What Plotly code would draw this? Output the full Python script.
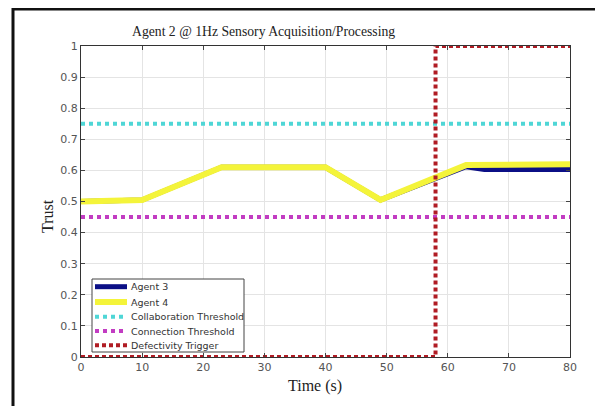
import plotly.graph_objects as go

# Data
time_agent3 = [0, 10, 23, 40, 49, 63, 66, 80]
trust_agent3 = [0.500, 0.505, 0.610, 0.610, 0.505, 0.612, 0.603, 0.603]
time_agent4 = [0, 10, 23, 40, 49, 63, 80]
trust_agent4 = [0.500, 0.505, 0.610, 0.610, 0.505, 0.617, 0.620]
threshold_time = [0, 80]
collaboration_threshold = [0.75, 0.75]
connection_threshold = [0.45, 0.45]
trigger_time = [0, 58, 58, 80]
trigger_value = [0, 0, 1, 1]
x_ticks = [0, 10, 20, 30, 40, 50, 60, 70, 80]
y_ticks = [0, 0.1, 0.2, 0.3, 0.4, 0.5, 0.6, 0.7, 0.8, 0.9, 1]
y_tick_labels = ["0", "0.1", "0.2", "0.3", "0.4", "0.5", "0.6", "0.7", "0.8", "0.9", "1"]
series_names = ["Agent 3", "Agent 4", "Collaboration Threshold", "Connection Threshold",
                "Defectivity Trigger"]

# styles
styles = [
    dict(color="#0b0f86", width=5),
    dict(color="#f4f43a", width=6),
    dict(color="#4fd6d6", width=4, dash="4px,4px"),
    dict(color="#c23cc2", width=4, dash="4px,4px"),
    dict(color="#b01c24", width=4, dash="4px,3px"),
]

# plot area geometry (page pixels): x 81..570, y 46..357 ; page body offset 8px
PX0, PX1, PY0, PY1 = 81, 570, 46, 357
OFF = 8
W, H = 603 - OFF, 406 - OFF
def px(X):
    return (X - PX0) / (PX1 - PX0)
def py(Y):
    return (PY1 - Y) / (PY1 - PY0)

fig = go.Figure()
xs = [time_agent3, time_agent4, threshold_time, threshold_time, trigger_time]
ys = [trust_agent3, trust_agent4, collaboration_threshold, connection_threshold, trigger_value]
for name, x, y, st in zip(series_names, xs, ys, styles):
    fig.add_trace(go.Scatter(x=x, y=y, mode="lines", name=name, line=st, showlegend=False))

fig.update_layout(
    width=W, height=H,
    margin=dict(l=PX0 - OFF, r=W - (PX1 - OFF), t=PY0 - OFF, b=H - (PY1 - OFF), pad=0),
    paper_bgcolor="white", plot_bgcolor="white",
    showlegend=False,
    xaxis=dict(range=[0, 80], tickvals=x_ticks, ticks="inside", ticklen=4,
               showline=True, linecolor="#333333", linewidth=1, mirror="ticks",
               showgrid=True, gridcolor="#e4e4e4", zeroline=False,
               tickfont=dict(family="DejaVu Sans", size=11, color="#555555")),
    yaxis=dict(range=[0, 1], tickvals=y_ticks, ticktext=y_tick_labels, ticks="inside", ticklen=4,
               showline=True, linecolor="#333333", linewidth=1, mirror="ticks",
               showgrid=True, gridcolor="#e4e4e4", zeroline=False,
               tickfont=dict(family="DejaVu Sans", size=11, color="#555555")),
)

serif = dict(family="Liberation Serif", size=16, color="#222222")
fig.add_annotation(text="Agent 2 @ 1Hz Sensory Acquisition/Processing", xref="paper", yref="paper",
                   x=px(263), y=py(31), showarrow=False, xanchor="center", yanchor="middle",
                   font=dict(family="Liberation Serif", size=13.7, color="#222222"))
fig.add_annotation(text="Time (s)", xref="paper", yref="paper", x=px(315), y=py(386),
                   showarrow=False, xanchor="center", yanchor="middle", font=serif)
fig.add_annotation(text="Trust", xref="paper", yref="paper", x=px(47), y=py(216),
                   showarrow=False, xanchor="center", yanchor="middle", textangle=-90, font=serif)

# custom compact legend (MATLAB style)
fig.add_shape(type="rect", xref="paper", yref="paper", x0=px(92), x1=px(244), y0=py(352), y1=py(279),
              line=dict(color="#444444", width=1), fillcolor="white", layer="above")
item_y = [286.7, 302, 316.7, 331, 345.3]
for name, st, Y in zip(series_names, styles, item_y):
    fig.add_shape(type="line", xref="paper", yref="paper", x0=px(95), x1=px(127), y0=py(Y), y1=py(Y),
                  line=st, layer="above")
    fig.add_annotation(text=name, xref="paper", yref="paper", x=px(129), y=py(Y), showarrow=False,
                       xanchor="left", yanchor="middle",
                       font=dict(family="DejaVu Sans", size=9.5, color="#333333"))

# outer frame of the figure image
fig.add_shape(type="rect", xref="paper", yref="paper",
              x0=px(13), x1=px(600), y0=py(430), y1=py(9),
              line=dict(color="#111111", width=3), layer="below")

fig.write_html("out.html")
